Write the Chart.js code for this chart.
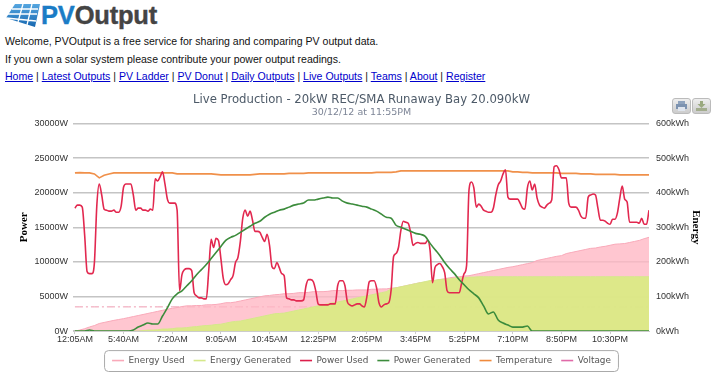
<!DOCTYPE html>
<html>
<head>
<meta charset="utf-8">
<title>PVOutput</title>
<script src="https://cdn.jsdelivr.net/npm/chart.js@4/dist/chart.umd.min.js"></script>
<style>
html,body{margin:0;padding:0;background:#fff;width:723px;height:375px;overflow:hidden;font-family:"Liberation Sans",Arial,sans-serif;}
.t{position:absolute;left:5px;font-size:10.55px;line-height:13px;color:#111;white-space:nowrap;}
.t a{color:#00c;text-decoration:underline;}
.logo{position:absolute;left:41px;top:-1px;font-family:"Liberation Sans";font-weight:bold;font-size:25.5px;line-height:32px;letter-spacing:-.2px;color:#444;-webkit-text-stroke:.4px #444;white-space:nowrap;}
.logo b{color:#1b7cc6;-webkit-text-stroke:.4px #1b7cc6;}
svg.icon{position:absolute;left:5px;top:3px;}
.btn{position:absolute;top:98px;width:17px;height:14px;border:1px solid #bbb;border-radius:3px;background:linear-gradient(#eee,#ccc);}
.btn svg{position:absolute;left:3px;top:2px;}
canvas{position:absolute;left:0;top:0;}
</style>
</head>
<body>
<svg class="icon" width="36" height="26" viewBox="0 0 36 26">
<defs><linearGradient id="g" x1="0" y1="0" x2="0" y2="1"><stop offset="0" stop-color="#55a6e0"/><stop offset="1" stop-color="#1667b0"/></linearGradient></defs>
<path d="M10 1H35L30 24L1 15Z" fill="url(#g)"/>
<path d="M18 1L13 19M27 1L22 22M7 6H33M3 11H32M1 15L31 18" stroke="#fff" stroke-width="1.3" fill="none"/>
</svg>
<div class="logo"><b>PV</b>Output</div>
<div class="t" style="top:35px">Welcome, PVOutput is a free service for sharing and comparing PV output data.</div>
<div class="t" style="top:53px">If you own a solar system please contribute your power output readings.</div>
<div class="t" style="top:70px"><a>Home</a> | <a>Latest Outputs</a> | <a>PV Ladder</a> | <a>PV Donut</a> | <a>Daily Outputs</a> | <a>Live Outputs</a> | <a>Teams</a> | <a>About</a> | <a>Register</a></div>
<div class="btn" style="left:672px"><svg width="11" height="10"><rect x="2" y="0" width="7" height="3" fill="#8fa3bd"/><rect x="0" y="3" width="11" height="5" fill="#7d93b0"/><rect x="2" y="6" width="7" height="4" fill="#dfe5ee"/></svg></div>
<div class="btn" style="left:692px"><svg width="11" height="10"><path d="M4 0H7V3H9.5L5.5 7L1.5 3H4Z" fill="#9aa97f"/><rect x="0" y="7" width="11" height="3" fill="#a3ad8e"/></svg></div>
<canvas id="c" width="723" height="375"></canvas>
<script>
const tickLabels = ["12:05AM","5:40AM","7:20AM","9:05AM","10:45AM","12:25PM","2:05PM","3:45PM","5:25PM","7:10PM","8:50PM","10:30PM"];
const seriesNames = ["Energy Used","Energy Generated","Power Used","Power Generated","Temperature","Voltage"];
const energyUsed = [
0,3,7,12,16,22,25,28,31,33.5,
36,39,42,45,48,51,54,57,60,63,
66,68,71,73,73,74,74,76,76,77,
79,82,82,84,87,90,93,96,99,102,
103,105,106,108,108,109,111,111,112,114,
114,114,115,117,117,117,118,118,119,119,
119,121,121,122,122,124,125,128,131,134,
137,140,141,143,146,149,151,154,156,157,
159,160,163,166,169,172,175,178,181,184,
186,189,192,195,198,204,207,210,213,216,
218,224,227,230,233,236,239,240,243,245,
248,251,252,253,256,259,262,267,271];
const energyGenerated = [
0,0,0,0,0,0,0,0,0,0,
0,0,0,0,1.5,3,3,4,6,6,
7,9,9,10,12,13,15,16,17,19,
20,23,26,28,29,32,35,38,41,44,
47,50,51,52,55,58,61,64,67,70,
73,76,79,82,84,87,90,93,96,99,
102,105,108,111,114,122,125,128,131,134,
137,140,143,146,147,149,150,151,153,154,
154,156,156,157,157,157,157,157,157,157,
157,157,157,157,157,157,157,157,157,157,
157,157,157,157,157,157,157,157,157,157,
157,157,157,157,157,157,157,157,157];
const powerUsed = [
17760,18200,18200,17910,13830,8590,8300,8300,9900,18200,
21260,19660,17620,17470,17330,17330,17470,17180,17180,18050,
20820,21260,21260,21260,19660,17470,17760,17760,17470,17470,
17330,17620,17470,21990,21690,22280,23000,21260,19070,18490,
18490,18490,17470,5820,8150,8880,9030,9030,8740,5530,
5100,4800,4800,4660,4660,8740,13250,12080,13400,13100,
10480,7570,6700,6840,7430,8010,9900,10630,12960,16310,
17470,16600,17330,16020,14410,14410,14270,13540,12960,13980,
12380,9320,9030,9900,9170,8300,8010,4800,4660,4510,
4510,4370,4370,4370,4510,6550,7430,7430,7130,5820,
3930,3790,3790,3790,3790,3930,3930,3930,6550,7280,
7280,6550,4220,3790,3640,3790,3930,3930,3640,3490,
4950,7130,7280,7280,6260,4080,3490,3790,3930,4080,
5970,10770,11210,12080,14560,15870,15720,15580,14270,12380,
12670,12810,12670,12670,12670,13100,11650,6990,9170,9610,
9760,9320,8440,5820,5530,5530,5530,5530,5530,6990,
8300,9460,20380,21550,20670,17910,18350,18050,17470,17330,
17180,17180,17760,19660,21110,21690,22710,23300,19360,19070,
19070,19070,19070,18490,17760,17620,20670,21690,20380,21260,
19220,18200,17910,17760,18200,18490,18930,23730,23880,23300,
22130,22130,22130,18490,17910,17910,17910,17470,16600,16310,
16310,19360,19660,19800,19660,17760,16020,16020,15870,15580,
15430,16160,16160,17040,19220,20970,19070,18640,15720,15720,
15720,15720,15580,16310,15430,15430,17470];
const powerGenerated = [
0,0,0,150,0,0,0,0,0,0,
0,0,150,580,870,1160,1020,1020,2180,3350,
4660,5390,5820,6550,7280,8150,8880,9610,10480,11360,
12230,13100,13540,13830,14270,14710,15140,15580,15870,16450,
16890,17180,17470,17620,17910,18200,18350,18490,18930,18930,
19070,19220,19360,19220,19220,18780,18490,18350,18200,18050,
17910,17620,17330,16890,16450,16310,15290,15000,14710,14410,
14120,13980,13690,12670,11790,10920,9900,9030,8300,7430,
6700,5970,5390,4800,3640,2480,2770,1600,1160,870,
580,580,580,730,0,0,0,0,0,0,
0,0,0,0,0,0,0,0,0,0,
0,0,0,0,0,0,0,0,0];
const temperature = [
22860,22900,22860,22860,22710,22130,22500,22710,22860,22860,
22860,22860,22860,22860,22860,22860,22860,22860,22860,22860,
22860,22710,22710,22710,22710,22710,22710,22710,22710,22640,
22570,22570,22570,22570,22570,22570,22570,22640,22710,22710,
22710,22710,22710,22710,22790,22790,22790,22790,22860,22860,
22860,22860,22860,22860,22860,22860,22860,22860,22860,22860,
22860,22860,22930,22930,22930,22930,23000,23150,23150,23150,
23150,23150,23150,23150,23150,23150,23150,23150,23150,23150,
23150,23150,23150,23150,23150,23150,23150,23150,23150,23150,
23000,23000,22930,22930,22860,22860,22860,22860,22860,22860,
22790,22790,22790,22790,22710,22710,22710,22640,22640,22640,
22640,22640,22570,22570,22570,22570,22570,22570,22570];
const voltage = [
3500,3500,3500,3500,3500,3500,3500,3500,3500,3500,
3500,3500,3500,3500,3500,3500,3500,3500,3500,3500,
3500,3500,3500,3500,3500,3500,3500,3500,3500,3500,
3500,3500,3500,3500,3500,3500,3500,3500,3500,3500,
3500,3500,3500,3500,3500,3500,3500,3500,3500,3500,
3500,3500,3500,3500,3500,3500,3500,3500,3500,3500,
3500,3500,3500,3500,3500,3500,3500,3500,3500,3500,
3500,3500,3500,3500,3500,3500,3500,3500,3500,3500,
3500,3500,3500,3500,3500,3500,3500,3500,3500,3500,
3500,3500,3500,3500,3500,3500,3500,3500,3500,3500,
3500,3500,3500,3500,3500,3500,3500,3500,3500,3500,
3500,3500,3500,3500,3500,3500,3500,3500,3500];
const legendColors = ["#f9a9b9","#d5e88a","#dc1f4b","#3c8c3c","#f08a3c","#e06aa8"];

const pts = a => a.map((v,i)=>({x:i,y:v}));
const halfPts = a => a.map((v,i)=>({x:i/2,y:v}));
const tickFont = {family:'"Liberation Sans"',size:9};
const legendBox = {
  id:'legendBox',
  beforeDraw(chart){
    const h = chart.legend.legendHitBoxes; if(!h||!h.length) return;
    const c = chart.ctx, l=h[0].left-8, r=h[h.length-1].left+h[h.length-1].width+7, t=h[0].top-6, b=h[0].top+h[0].height+6;
    c.save(); c.strokeStyle='#aaa'; c.lineWidth=1; c.beginPath(); c.roundRect(l+.5,t+.5,r-l,b-t,4); c.stroke(); c.restore();
  }
};
new Chart(document.getElementById('c'),{
  type:'line',
  plugins:[legendBox],
  data:{datasets:[
    {label:seriesNames[0],data:pts(energyUsed),yAxisID:'yR',order:9,borderColor:'#f9a9b9',backgroundColor:'rgba(255,184,196,.8)',fill:'origin',borderWidth:1,pointRadius:0},
    {label:seriesNames[1],data:pts(energyGenerated),yAxisID:'yR',order:8,borderColor:'#d5e88a',backgroundColor:'rgba(217,236,130,.9)',fill:'origin',borderWidth:1,pointRadius:0},
    {label:seriesNames[2],data:halfPts(powerUsed),yAxisID:'yL',order:3,borderColor:'#e2284f',borderWidth:1.6,pointRadius:0,cubicInterpolationMode:'monotone'},
    {label:seriesNames[3],data:pts(powerGenerated),yAxisID:'yL',order:2,borderColor:'#3c8c3c',borderWidth:1.6,pointRadius:0,cubicInterpolationMode:'monotone'},
    {label:seriesNames[4],data:pts(temperature),yAxisID:'yL',order:4,borderColor:'#f0904a',borderWidth:1.6,pointRadius:0},
    {label:seriesNames[5],data:pts(voltage),yAxisID:'yL',order:10,borderColor:'rgba(232,120,150,.75)',borderWidth:1,borderDash:[8,3,2,3],pointRadius:0}
  ]},
  options:{
    responsive:false,animation:false,
    layout:{padding:{top:93,bottom:0,left:0,right:0}},
    plugins:{
      title:{display:true,text:'Live Production - 20kW REC/SMA Runaway Bay 20.090kW',color:'#4d5a68',font:{family:'"DejaVu Sans"',size:11.7,weight:'normal'},padding:{top:0,bottom:0}},
      subtitle:{display:true,text:'30/12/12 at 11:55PM',color:'#7d8596',font:{family:'"DejaVu Sans"',size:9.5,weight:'normal'},padding:{top:0,bottom:5}},
      tooltip:{enabled:false},
      legend:{position:'bottom',labels:{
        usePointStyle:true,pointStyle:'line',pointStyleWidth:12,padding:9,color:'#555',
        font:{family:'"DejaVu Sans"',size:8.9},
        generateLabels(chart){
          return Chart.defaults.plugins.legend.labels.generateLabels(chart)
            .sort((a,b)=>a.datasetIndex-b.datasetIndex)
            .map((l,i)=>{l.strokeStyle=legendColors[i];l.lineDash=[];l.pointStyle='line';l.lineWidth=1.6;return l;});
        }
      }}
    },
    scales:{
      x:{type:'linear',min:-0.4,max:118,
        afterFit(s){s.height=16;},
        grid:{drawOnChartArea:false,color:'#ccc',tickLength:3},
        border:{color:'#ccc'},
        ticks:{stepSize:10,includeBounds:false,autoSkip:false,maxRotation:0,color:'#333',font:tickFont,padding:0,
          callback:v=>tickLabels[v/10]}
      },
      yL:{position:'left',min:0,max:30000,
        afterFit(s){s.width=73;},
        grid:{color:'#c4c4c4',lineWidth:1.5,drawTicks:false},border:{display:false},
        title:{display:true,text:'Power',color:'#000',font:{family:'"Liberation Serif"',size:11,weight:'bold'},padding:{top:18,bottom:0}},
        ticks:{stepSize:5000,color:'#333',font:tickFont,padding:5,callback:v=>v+'W'}
      },
      yR:{position:'right',min:0,max:600,
        afterFit(s){s.width=74;},
        grid:{drawOnChartArea:false,drawTicks:false},border:{display:false},
        title:{display:true,text:'Energy',color:'#000',font:{family:'"Liberation Serif"',size:11,weight:'bold'},padding:{top:21,bottom:0}},
        ticks:{stepSize:100,color:'#333',font:tickFont,padding:7,callback:v=>v+'kWh'}
      }
    }
  }
});
</script>
</body>
</html>
